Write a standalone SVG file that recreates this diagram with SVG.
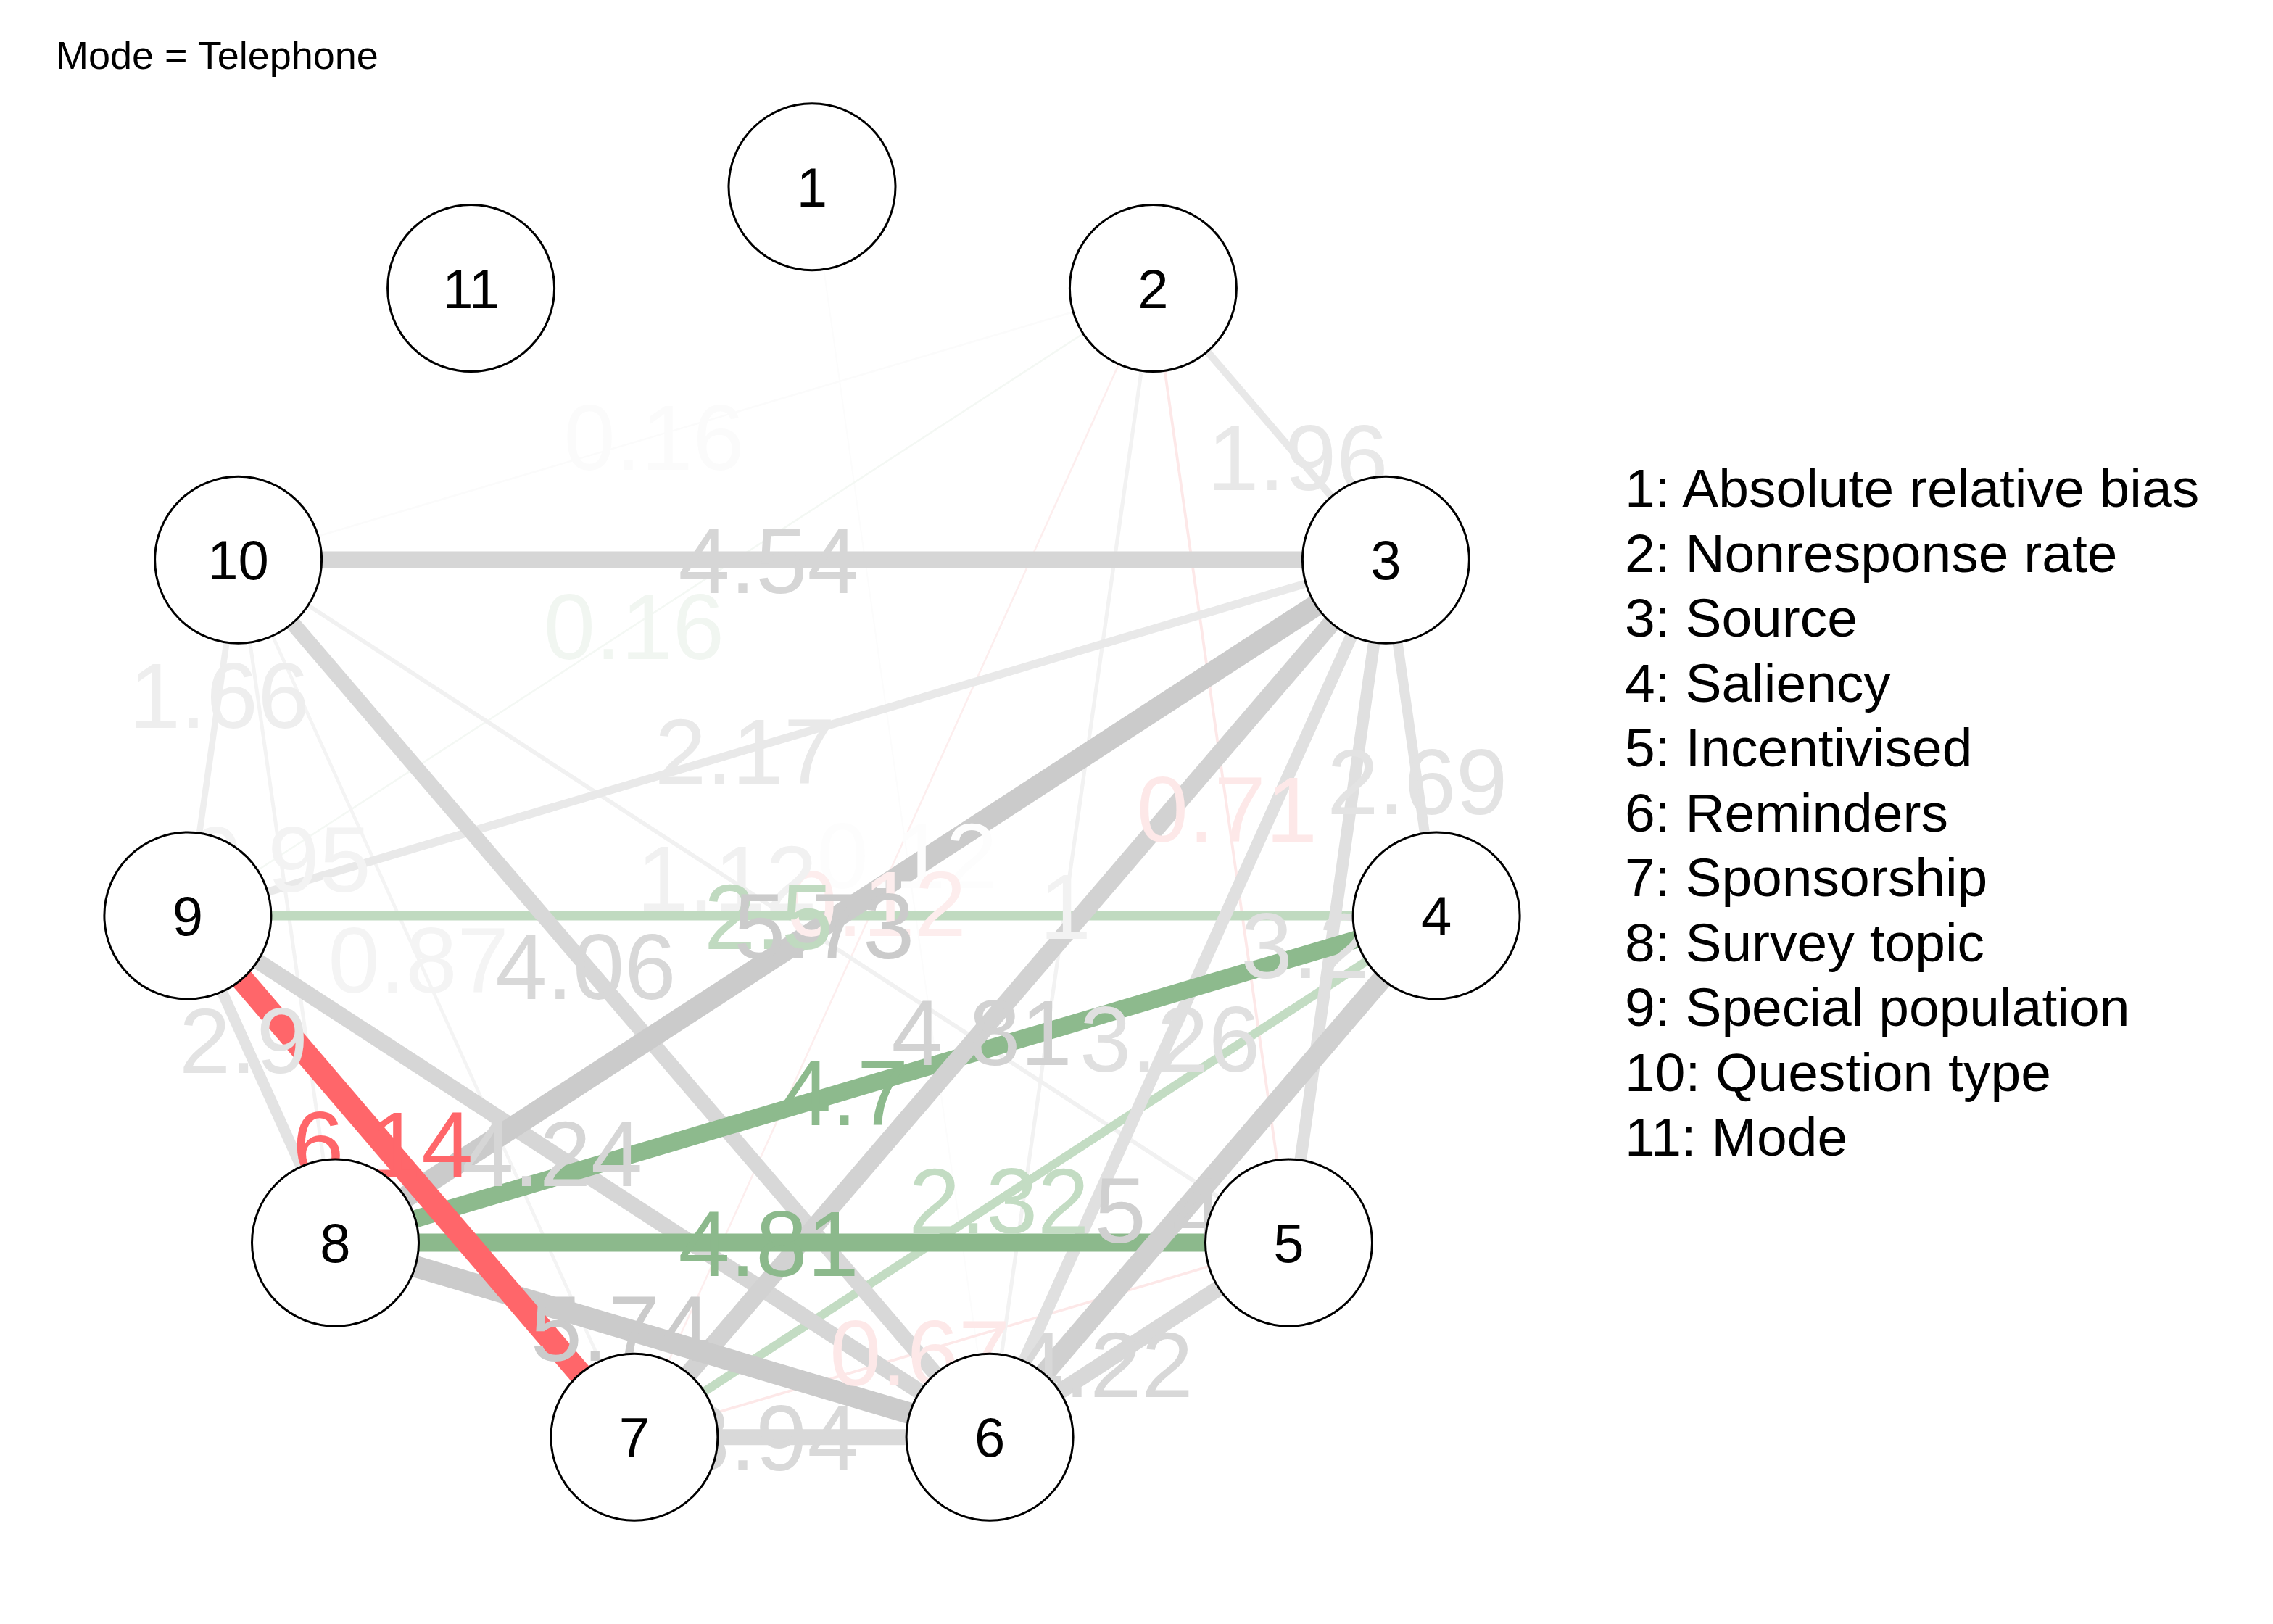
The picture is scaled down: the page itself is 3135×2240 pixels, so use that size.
<svg xmlns="http://www.w3.org/2000/svg" width="3135" height="2240" viewBox="0 0 3135 2240">
<style>
text{font-family:"Liberation Sans",Arial,sans-serif}
.title{font-size:54px;fill:#000}
.leg{font-size:75px;fill:#000}
.nl{font-size:76px;fill:#000;text-anchor:middle}
.node circle{fill:#fff;stroke:#000;stroke-width:3}
#edges line{fill:none}
.el{font-size:128px;text-anchor:middle}
.els{font-size:128px;text-anchor:start}
</style>
<rect width="3135" height="2240" fill="#fff"/>
<text class="title" x="77" y="95">Mode = Telephone</text>
<g id="edges">
<line x1="1120" y1="257.8" x2="1365.1" y2="1982.2" stroke="#fcfcfc" stroke-width="2"/>
<line x1="1590.4" y1="397.5" x2="874.9" y2="1982.2" stroke="#fdeeee" stroke-width="2.5"/>
<line x1="258.9" y1="1263" x2="1590.4" y2="397.5" stroke="#f4f8f4" stroke-width="2.5"/>
<line x1="328.6" y1="772.2" x2="1590.4" y2="397.5" stroke="#fbfbfb" stroke-width="2.5"/>
<line x1="874.9" y1="1982.2" x2="1777.5" y2="1714.1" stroke="#fde8e8" stroke-width="3.6"/>
<line x1="1590.4" y1="397.5" x2="1777.5" y2="1714.1" stroke="#fde8e8" stroke-width="3.8"/>
<line x1="328.6" y1="772.2" x2="874.9" y2="1982.2" stroke="#f4f4f4" stroke-width="4.6"/>
<line x1="328.6" y1="772.2" x2="462.5" y2="1714.1" stroke="#f3f3f3" stroke-width="5"/>
<line x1="1590.4" y1="397.5" x2="1365.1" y2="1982.2" stroke="#f2f2f2" stroke-width="5.2"/>
<line x1="328.6" y1="772.2" x2="1777.5" y2="1714.1" stroke="#f1f1f1" stroke-width="5.8"/>
<line x1="328.6" y1="772.2" x2="258.9" y2="1263" stroke="#eeeeee" stroke-width="8.6"/>
<line x1="1911.4" y1="772.2" x2="1590.4" y2="397.5" stroke="#e8e8e8" stroke-width="10.2"/>
<line x1="258.9" y1="1263" x2="1911.4" y2="772.2" stroke="#e9e9e9" stroke-width="11.3"/>
<line x1="874.9" y1="1982.2" x2="1981.1" y2="1263" stroke="#c3dcc3" stroke-width="12"/>
<line x1="258.9" y1="1263" x2="1981.1" y2="1263" stroke="#c0dac0" stroke-width="13"/>
<line x1="1981.1" y1="1263" x2="1911.4" y2="772.2" stroke="#e3e3e3" stroke-width="14"/>
<line x1="258.9" y1="1263" x2="462.5" y2="1714.1" stroke="#e3e3e3" stroke-width="15"/>
<line x1="1777.5" y1="1714.1" x2="1911.4" y2="772.2" stroke="#e0e0e0" stroke-width="16.6"/>
<line x1="1365.1" y1="1982.2" x2="1911.4" y2="772.2" stroke="#e0e0e0" stroke-width="17"/>
<line x1="874.9" y1="1982.2" x2="1365.1" y2="1982.2" stroke="#d9d9d9" stroke-width="22"/>
<line x1="328.6" y1="772.2" x2="1365.1" y2="1982.2" stroke="#d8d8d8" stroke-width="21"/>
<line x1="1365.1" y1="1982.2" x2="1777.5" y2="1714.1" stroke="#d8d8d8" stroke-width="22"/>
<line x1="258.9" y1="1263" x2="1365.1" y2="1982.2" stroke="#d6d6d6" stroke-width="22"/>
<line x1="328.6" y1="772.2" x2="1911.4" y2="772.2" stroke="#d6d6d6" stroke-width="23.6"/>
<line x1="462.5" y1="1714.1" x2="1981.1" y2="1263" stroke="#8dba8d" stroke-width="24.4"/>
<line x1="874.9" y1="1982.2" x2="1911.4" y2="772.2" stroke="#d2d2d2" stroke-width="25"/>
<line x1="462.5" y1="1714.1" x2="1777.5" y2="1714.1" stroke="#8cb98c" stroke-width="25"/>
<line x1="1365.1" y1="1982.2" x2="1981.1" y2="1263" stroke="#d0d0d0" stroke-width="28"/>
<line x1="462.5" y1="1714.1" x2="1911.4" y2="772.2" stroke="#cbcbcb" stroke-width="29.8"/>
<line x1="462.5" y1="1714.1" x2="1365.1" y2="1982.2" stroke="#cbcbcb" stroke-width="29.8"/>
<line x1="258.9" y1="1263" x2="874.9" y2="1982.2" stroke="#ff666a" stroke-width="32"/>
</g>
<g id="edge-labels">
<text class="el" x="1251" y="1225.4" fill="#fdfdfd">0.12</text>
<text class="el" x="1208" y="1290.5" fill="#fdeded">0.12</text>
<text class="el" x="874.3" y="909" fill="#f1f6f1">0.16</text>
<text class="el" x="902" y="647.9" fill="#fbfbfb">0.16</text>
<text class="el" x="1268.7" y="1911.2" fill="#fde8e8">0.67</text>
<text class="el" x="1692.4" y="1161.2" fill="#fde8e8">0.71</text>
<text class="el" x="577.1" y="1368.5" fill="#f4f4f4">0.87</text>
<text class="el" x="387.1" y="1229.7" fill="#f3f3f3">0.95</text>
<text class="el" x="1469.3" y="1295.3" fill="#f2f2f2">1</text>
<text class="el" x="1002.7" y="1256.4" fill="#f1f1f1">1.12</text>
<text class="el" x="302.2" y="1004.2" fill="#eeeeee">1.66</text>
<text class="el" x="1789.9" y="676.4" fill="#e8e8e8">1.96</text>
<text class="el" x="1027.6" y="1080.7" fill="#e9e9e9">2.17</text>
<text class="el" x="1377.7" y="1701.3" fill="#c3dcc3">2.32</text>
<text class="el" x="1060" y="1309" fill="#c0dac0">2.5</text>
<text class="el" x="1954.7" y="1123" fill="#e3e3e3">2.69</text>
<text class="el" x="336" y="1479.9" fill="#e3e3e3">2.9</text>
<text class="els" x="1711.5" y="1348.6" fill="#e0e0e0">3.2</text>
<text class="el" x="1613.6" y="1477.9" fill="#e0e0e0">3.26</text>
<text class="el" x="1060" y="2028.2" fill="#d9d9d9">3.94</text>
<text class="el" x="807.8" y="1377.6" fill="#d8d8d8">4.06</text>
<text class="el" x="1521" y="1926.9" fill="#d8d8d8">4.22</text>
<text class="el" x="761.7" y="1635.9" fill="#d6d6d6">4.24</text>
<text class="el" x="1060" y="818.2" fill="#d6d6d6">4.54</text>
<text class="el" x="1164.3" y="1551.6" fill="#8dba8d">4.7</text>
<text class="el" x="1354.1" y="1468.8" fill="#d2d2d2">4.81</text>
<text class="el" x="1060" y="1760.1" fill="#8cb98c">4.81</text>
<text class="els" x="1509.6" y="1714.2" fill="#d0d0d0">5.4</text>
<text class="el" x="1136.6" y="1321.9" fill="#cbcbcb">5.73</text>
<text class="el" x="856.3" y="1877.1" fill="#cbcbcb">5.74</text>
<text class="el" x="527.9" y="1623" fill="#ff666a">6.14</text>
</g>
<g id="node1" class="node"><circle cx="1120" cy="257.8" r="115"/><text class="nl" x="1120" y="285">1</text></g>
<g id="node2" class="node"><circle cx="1590.4" cy="397.5" r="115"/><text class="nl" x="1590.4" y="424.7">2</text></g>
<g id="node3" class="node"><circle cx="1911.4" cy="772.2" r="115"/><text class="nl" x="1911.4" y="799.4">3</text></g>
<g id="node4" class="node"><circle cx="1981.1" cy="1263" r="115"/><text class="nl" x="1981.1" y="1290.2">4</text></g>
<g id="node5" class="node"><circle cx="1777.5" cy="1714.1" r="115"/><text class="nl" x="1777.5" y="1741.3">5</text></g>
<g id="node6" class="node"><circle cx="1365.1" cy="1982.2" r="115"/><text class="nl" x="1365.1" y="2009.4">6</text></g>
<g id="node7" class="node"><circle cx="874.9" cy="1982.2" r="115"/><text class="nl" x="874.9" y="2009.4">7</text></g>
<g id="node8" class="node"><circle cx="462.5" cy="1714.1" r="115"/><text class="nl" x="462.5" y="1741.3">8</text></g>
<g id="node9" class="node"><circle cx="258.9" cy="1263" r="115"/><text class="nl" x="258.9" y="1290.2">9</text></g>
<g id="node10" class="node"><circle cx="328.6" cy="772.2" r="115"/><text class="nl" x="328.6" y="799.4">10</text></g>
<g id="node11" class="node"><circle cx="649.6" cy="397.5" r="115"/><text class="nl" x="649.6" y="424.7">11</text></g>
<g id="legend">
<text class="leg" x="2241" y="699">1: Absolute relative bias</text>
<text class="leg" x="2241" y="788.5">2: Nonresponse rate</text>
<text class="leg" x="2241" y="878">3: Source</text>
<text class="leg" x="2241" y="967.5">4: Saliency</text>
<text class="leg" x="2241" y="1057">5: Incentivised</text>
<text class="leg" x="2241" y="1146.5">6: Reminders</text>
<text class="leg" x="2241" y="1236">7: Sponsorship</text>
<text class="leg" x="2241" y="1325.5">8: Survey topic</text>
<text class="leg" x="2241" y="1415">9: Special population</text>
<text class="leg" x="2241" y="1504.5">10: Question type</text>
<text class="leg" x="2241" y="1594">11: Mode</text>
</g>
</svg>
